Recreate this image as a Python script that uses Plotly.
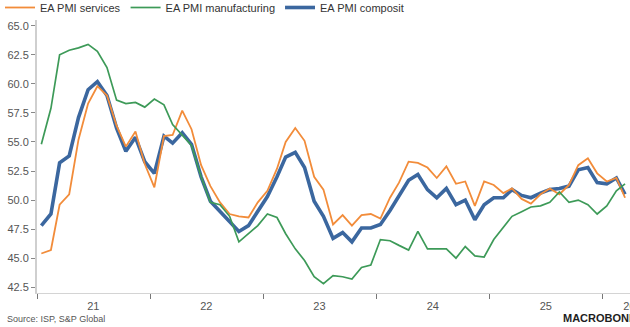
import pandas as pd
import plotly.graph_objects as go

# Monthly euro-area PMI readings, Jan 2021 - Mar 2026
start_month = "2021-01-01"
n_months = 63

services = [
    45.4, 45.7, 49.6, 50.5, 55.2, 58.3, 59.8, 59.0, 56.4, 54.6, 55.9, 53.1,
    51.1, 55.5, 55.6, 57.7, 56.1, 53.0, 51.2, 49.8, 48.8, 48.6, 48.5, 49.8,
    50.8, 52.7, 55.0, 56.2, 55.1, 52.0, 50.9, 47.9, 48.7, 47.8, 48.7, 48.8,
    48.4, 50.2, 51.5, 53.3, 53.2, 52.8, 51.9, 52.9, 51.4, 51.6, 49.5, 51.6,
    51.3, 50.6, 51.0, 50.1, 49.7, 50.5, 51.0, 50.5, 51.3, 53.0, 53.6, 52.3,
    51.6, 51.9, 50.2,
]
manufacturing = [
    54.8, 57.9, 62.5, 62.9, 63.1, 63.4, 62.8, 61.4, 58.6, 58.3, 58.4, 58.0,
    58.7, 58.2, 56.5, 55.6, 54.7, 52.0, 49.8, 49.6, 48.6, 46.4, 47.1, 47.8,
    48.8, 48.5, 47.1, 45.8, 44.8, 43.4, 42.8, 43.5, 43.4, 43.2, 44.2, 44.4,
    46.6, 46.5, 46.1, 45.7, 47.3, 45.8, 45.8, 45.8, 45.0, 46.0, 45.2, 45.1,
    46.6, 47.6, 48.6, 49.0, 49.4, 49.5, 49.8, 50.7, 49.8, 50.0, 49.6, 48.8,
    49.5, 50.8, 51.4,
]
composite = [
    47.8, 48.8, 53.2, 53.8, 57.1, 59.5, 60.2, 59.0, 56.2, 54.2, 55.4, 53.3,
    52.3, 55.5, 54.9, 55.8, 54.8, 52.0, 49.9, 49.0, 48.2, 47.3, 47.8, 49.1,
    50.3, 52.0, 53.7, 54.1, 52.8, 49.9, 48.6, 46.7, 47.2, 46.4, 47.6, 47.6,
    47.9, 49.1, 50.3, 51.7, 52.2, 50.9, 50.2, 51.0, 49.6, 50.0, 48.3, 49.6,
    50.2, 50.2, 50.9, 50.4, 50.2, 50.6, 50.9, 51.0, 51.2, 52.6, 52.8, 51.5,
    51.4, 51.9, 50.5,
]

year_labels = ["21", "22", "23", "24", "25", "26"]
label_dates = ["2021-07-02", "2022-07-02", "2023-07-02", "2024-07-02",
               "2025-07-02", "2026-03-29"]
year_starts = ["2021-01-01", "2022-01-01", "2023-01-01", "2024-01-01",
               "2025-01-01", "2026-01-01"]

# observations sit in the middle of each month
dates = pd.date_range(start_month, periods=n_months, freq="MS") + pd.Timedelta(days=14)

FONT = "Liberation Sans, Arial, sans-serif"
W, H = 630, 327
L, R, T, B = 37, 0, 20, 34

fig = go.Figure()
fig.add_trace(go.Scatter(x=dates, y=composite, name="EA PMI composit", mode="lines",
                         line=dict(color="#3b679f", width=3.6), legendrank=3))
fig.add_trace(go.Scatter(x=dates, y=services, name="EA PMI services", mode="lines",
                         line=dict(color="#f28c3a", width=1.8), legendrank=1))
fig.add_trace(go.Scatter(x=dates, y=manufacturing, name="EA PMI manufacturing", mode="lines",
                         line=dict(color="#3d9a58", width=1.7), legendrank=2))


def px_x(p):
    return (p - L) / (W - L - R)


def px_y(p):
    return (H - B - p) / (H - T - B)


fig.update_layout(
    width=W, height=H,
    margin=dict(l=L, r=R, t=T, b=B, pad=0, autoexpand=False),
    paper_bgcolor="white", plot_bgcolor="white",
    font=dict(family=FONT, size=11, color="#555555"),
    showlegend=True,
    legend=dict(orientation="h", xref="container", yref="paper",
                x=0, y=px_y(-7), xanchor="left", yanchor="top",
                font=dict(size=11, color="#333333"),
                itemwidth=30, tracegroupgap=0, bgcolor="rgba(0,0,0,0)"),
    xaxis=dict(
        type="date", range=["2021-01-01", "2026-03-31"],
        tickmode="array", tickvals=label_dates, ticktext=year_labels,
        ticks="outside", ticklen=3, tickcolor="rgba(0,0,0,0)",
        ticklabeloverflow="allow",
        tickfont=dict(size=11, color="#555555"),
        minor=dict(tickmode="array", tickvals=year_starts, ticks="outside",
                   ticklen=5, tickcolor="#777777", tickwidth=1, showgrid=False),
        showgrid=False, zeroline=False,
        showline=True, linecolor="#d4d4d4", linewidth=1,
    ),
    yaxis=dict(
        range=[42.0, 65.5], tickmode="linear", tick0=42.5, dtick=2.5,
        tickformat=".1f", ticks="outside", ticklen=4, tickcolor="#888888",
        tickfont=dict(size=11, color="#555555"),
        showgrid=False, zeroline=False,
        showline=True, linecolor="#cfcfcf", linewidth=2,
    ),
    annotations=[
        dict(text="Source: ISP, S&P Global", xref="paper", yref="paper",
             x=px_x(5), y=px_y(319), xanchor="left", yanchor="middle",
             showarrow=False, font=dict(size=9, color="#555555", family=FONT)),
        dict(text="<b>MACROBOND</b>", xref="paper", yref="paper",
             x=px_x(561), y=px_y(318), xanchor="left", yanchor="middle",
             showarrow=False, font=dict(size=11, color="#1e1e1e", family=FONT)),
    ],
)

fig.write_html("out.html")
